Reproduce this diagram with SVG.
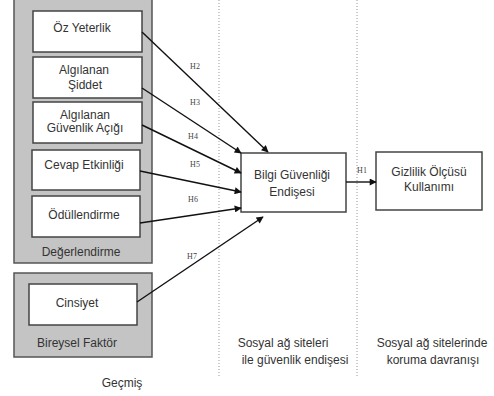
<svg xmlns="http://www.w3.org/2000/svg" width="494" height="396" viewBox="0 0 494 396">
<defs>
<marker id="ah" viewBox="0 0 10 10" refX="9" refY="5" markerWidth="8" markerHeight="7" orient="auto" markerUnits="userSpaceOnUse">
<path d="M0,0 L10,5 L0,10 z" fill="#111"/>
</marker>
<style>
.grp{fill:#c4c4c4;stroke:#555;stroke-width:1.5}
.box{fill:#fff;stroke:#444;stroke-width:1.5}
.t{font-family:"Liberation Sans",Arial,sans-serif;font-size:12px;fill:#333;text-anchor:middle}
.h{font-family:"Liberation Serif","Times New Roman",serif;font-size:8px;fill:#444;text-anchor:middle}
.c{stroke:#111;stroke-width:1.4;fill:none;marker-end:url(#ah)}
.dot{stroke:#999;stroke-width:1;stroke-dasharray:1,2}
</style>
</defs>
<rect width="494" height="396" fill="#fff"/>
<g id="dividers">
<line class="dot" x1="219" y1="0" x2="219" y2="378"/>
<line class="dot" x1="357" y1="0" x2="357" y2="378"/>
</g>
<g id="degerlendirme">
<rect class="grp" x="14" y="-1" width="138" height="264"/>
<text class="t" x="81" y="256">Değerlendirme</text>
</g>
<g id="bireysel">
<rect class="grp" x="14" y="273" width="138" height="84"/>
<text class="t" x="77" y="347">Bireysel Faktör</text>
</g>
<g id="oz-yeterlik">
<rect class="box" x="33" y="11" width="109" height="41"/>
<text class="t" x="82" y="32">Öz Yeterlik</text>
</g>
<g id="siddet">
<rect class="box" x="33" y="57" width="109" height="41"/>
<text class="t" x="84" y="74">Algılanan</text>
<text class="t" x="85" y="89">Şiddet</text>
</g>
<g id="guvenlik-acigi">
<rect class="box" x="33" y="102" width="109" height="41"/>
<text class="t" x="85" y="119">Algılanan</text>
<text class="t" x="85" y="132">Güvenlik Açığı</text>
</g>
<g id="cevap">
<rect class="box" x="32" y="150" width="108" height="40"/>
<text class="t" x="84" y="169">Cevap Etkinliği</text>
</g>
<g id="odullendirme">
<rect class="box" x="32" y="196" width="108" height="41"/>
<text class="t" x="84" y="219">Ödüllendirme</text>
</g>
<g id="cinsiyet">
<rect class="box" x="29" y="284" width="108" height="41"/>
<text class="t" x="77" y="307">Cinsiyet</text>
</g>
<g id="bilgi">
<rect class="box" x="241" y="153" width="105" height="59"/>
<text class="t" x="292" y="179">Bilgi Güvenliği</text>
<text class="t" x="292" y="196">Endişesi</text>
</g>
<g id="gizlilik">
<rect class="box" x="376" y="152" width="106" height="58"/>
<text class="t" x="429" y="176">Gizlilik Ölçüsü</text>
<text class="t" x="429" y="191">Kullanımı</text>
</g>
<g id="connectors">
<line class="c" x1="142" y1="32" x2="268" y2="152"/>
<line class="c" x1="142" y1="88" x2="241" y2="153"/>
<line class="c" x1="142" y1="125" x2="241" y2="173"/>
<line class="c" x1="140" y1="171" x2="241" y2="192"/>
<line class="c" x1="140" y1="223" x2="241" y2="208"/>
<line class="c" x1="137" y1="302" x2="263" y2="217"/>
<line class="c" x1="346" y1="182" x2="376" y2="182"/>
<text class="h" x="195" y="69">H2</text>
<text class="h" x="195" y="105">H3</text>
<text class="h" x="193" y="139">H4</text>
<text class="h" x="195" y="167">H5</text>
<text class="h" x="193" y="202">H6</text>
<text class="h" x="192" y="259">H7</text>
<text class="h" x="362" y="173">H1</text>
</g>
<g id="labels">
<text class="t" x="283" y="347">Sosyal ağ siteleri</text>
<text class="t" x="295" y="364">ile güvenlik endişesi</text>
<text class="t" x="432" y="347">Sosyal ağ sitelerinde</text>
<text class="t" x="433" y="364">koruma davranışı</text>
<text class="t" x="122" y="387">Geçmiş</text>
</g>
</svg>
